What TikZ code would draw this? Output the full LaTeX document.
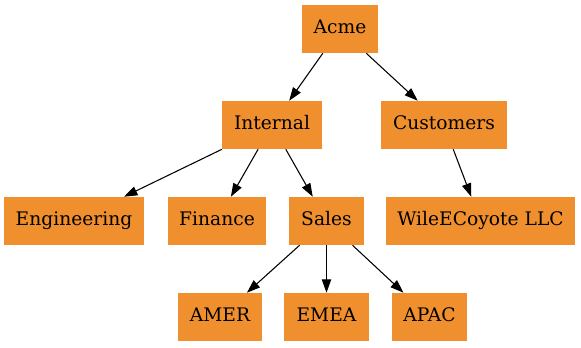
\documentclass[tikz,border=0pt]{standalone}
\usepackage{fontspec}
\setmainfont{DejaVu Serif}
\usetikzlibrary{arrows.meta}
\definecolor{boxorange}{HTML}{EF8F2E}
\tikzset{
  box/.style={rectangle, fill=boxorange, draw=none, inner sep=0pt,
    minimum height=36pt, text height=10.2pt, text depth=3.2pt,
    font=\fontsize{14pt}{16pt}\selectfont, text=black},
  edge/.style={draw=black, line width=0.8pt, -{Triangle[length=10pt,width=7pt]}}
}
\begin{document}
\begin{tikzpicture}[x=0.75pt, y=-0.75pt]
\useasboundingbox (0,0) rectangle (581,347);
\node[box, minimum width=57pt]   (acme) at (340,29)  {Acme};
\node[box, minimum width=75pt]   (int)  at (272,125) {Internal};
\node[box, minimum width=94.5pt] (cust) at (444,125) {Customers};
\node[box, minimum width=105pt]  (eng)  at (74,221)  {Engineering};
\node[box, minimum width=73.5pt] (fin)  at (217,221) {Finance};
\node[box, minimum width=56.25pt](sales) at (326.5,221) {Sales};
\node[box, minimum width=141.75pt](wile) at (480.5,221) {WileECoyote LLC};
\node[box, minimum width=63pt]   (amer) at (220,317) {AMER};
\node[box, minimum width=63.75pt](emea) at (326.5,317) {EMEA};
\node[box, minimum width=56.25pt](apac) at (429.5,317) {APAC};
\draw[edge] (acme) -- (int);
\draw[edge] (acme) -- (cust);
\draw[edge] (int) -- (eng);
\draw[edge] (int) -- (fin);
\draw[edge] (int) -- (sales);
\draw[edge] (cust) -- (wile);
\draw[edge] (sales) -- (amer);
\draw[edge] (sales) -- (emea);
\draw[edge] (sales) -- (apac);
\end{tikzpicture}
\end{document}
